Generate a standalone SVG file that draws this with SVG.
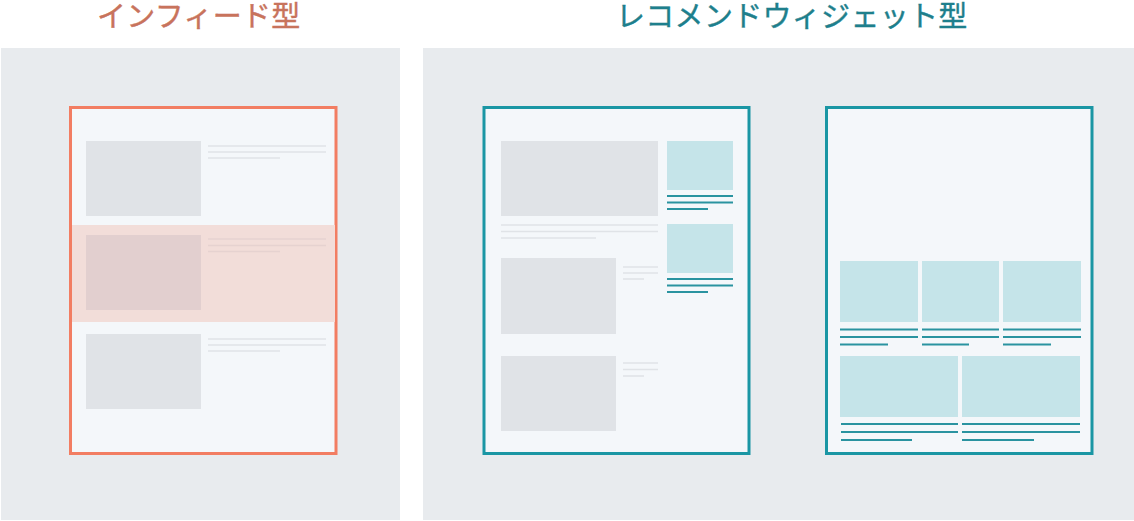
<svg xmlns="http://www.w3.org/2000/svg" width="1134" height="521" viewBox="0 0 1134 521">
<style>
.title{font-family:"Noto Sans CJK JP","Noto Sans",sans-serif;font-size:29px;font-weight:400;letter-spacing:0.3px;stroke-width:0.4px}
.panel{fill:#e8ebee}
.page{fill:#f4f7fa;stroke-width:3}
.gbox{fill:#e0e3e7}
.gline{stroke:#e0e3e7;stroke-width:1.6}
.tbox{fill:#c5e4e9}
.tline{stroke:#2a93a0;stroke-width:2}
</style>
<rect width="1134" height="521" fill="#ffffff"/>
<g id="infeed">
<text class="title" x="97" y="27" fill="#c8735c" stroke="#c8735c">インフィード型</text>
<rect class="panel" x="1" y="48" width="399" height="472"/>
<rect class="page" x="70.5" y="107.5" width="265.5" height="346" stroke="#f27d62"/>
<rect x="72" y="225" width="263" height="97" fill="#f2ddd9"/>
<rect class="gbox" x="86" y="141" width="115" height="75"/>
<line class="gline" x1="208" y1="146" x2="326" y2="146"/>
<line class="gline" x1="208" y1="152" x2="326" y2="152"/>
<line class="gline" x1="208" y1="158" x2="280" y2="158"/>
<rect x="86" y="235" width="115" height="75" fill="#e2cfcf"/>
<line x1="208" y1="239" x2="326" y2="239" stroke="#e6d2d0" stroke-width="1.6"/>
<line x1="208" y1="245.5" x2="326" y2="245.5" stroke="#e6d2d0" stroke-width="1.6"/>
<line x1="208" y1="251.5" x2="280" y2="251.5" stroke="#e6d2d0" stroke-width="1.6"/>
<rect class="gbox" x="86" y="334" width="115" height="75"/>
<line class="gline" x1="208" y1="339" x2="326" y2="339"/>
<line class="gline" x1="208" y1="345" x2="326" y2="345"/>
<line class="gline" x1="208" y1="351" x2="280" y2="351"/>
</g>
<g id="recommend">
<text class="title" x="616" y="27" fill="#1e7f8c" stroke="#1e7f8c">レコメンドウィジェット型</text>
<rect class="panel" x="423" y="48" width="711" height="472"/>
</g>
<g id="widget-sidebar">
<rect class="page" x="484" y="107.5" width="265" height="346" stroke="#1a96a4"/>
<rect class="gbox" x="501" y="141" width="157" height="75"/>
<line class="gline" x1="501" y1="225" x2="658" y2="225"/>
<line class="gline" x1="501" y1="231.5" x2="658" y2="231.5"/>
<line class="gline" x1="501" y1="238" x2="596" y2="238"/>
<rect class="gbox" x="501" y="258" width="115" height="76"/>
<line class="gline" x1="623" y1="267" x2="658" y2="267"/>
<line class="gline" x1="623" y1="273" x2="658" y2="273"/>
<line class="gline" x1="623" y1="279" x2="644" y2="279"/>
<rect class="gbox" x="501" y="356" width="115" height="75"/>
<line class="gline" x1="623" y1="363" x2="658" y2="363"/>
<line class="gline" x1="623" y1="369.5" x2="658" y2="369.5"/>
<line class="gline" x1="623" y1="376" x2="644" y2="376"/>
<rect class="tbox" x="667" y="141" width="66" height="49"/>
<line class="tline" x1="667" y1="196" x2="733" y2="196"/>
<line class="tline" x1="667" y1="202.5" x2="733" y2="202.5"/>
<line class="tline" x1="667" y1="209" x2="708" y2="209"/>
<rect class="tbox" x="667" y="224" width="66" height="49"/>
<line class="tline" x1="667" y1="279" x2="733" y2="279"/>
<line class="tline" x1="667" y1="285.5" x2="733" y2="285.5"/>
<line class="tline" x1="667" y1="292" x2="708" y2="292"/>
</g>
<g id="widget-bottom">
<rect class="page" x="826.5" y="107.5" width="265.5" height="346" stroke="#1a96a4"/>
<rect class="tbox" x="840" y="261" width="78" height="61"/>
<rect class="tbox" x="922" y="261" width="77" height="61"/>
<rect class="tbox" x="1003" y="261" width="78" height="61"/>
<line class="tline" x1="840" y1="329.5" x2="918" y2="329.5"/>
<line class="tline" x1="840" y1="337" x2="918" y2="337"/>
<line class="tline" x1="840" y1="344.5" x2="888" y2="344.5"/>
<line class="tline" x1="922" y1="329.5" x2="999" y2="329.5"/>
<line class="tline" x1="922" y1="337" x2="999" y2="337"/>
<line class="tline" x1="922" y1="344.5" x2="969" y2="344.5"/>
<line class="tline" x1="1003" y1="329.5" x2="1081" y2="329.5"/>
<line class="tline" x1="1003" y1="337" x2="1081" y2="337"/>
<line class="tline" x1="1003" y1="344.5" x2="1051" y2="344.5"/>
<rect class="tbox" x="840" y="356" width="118" height="61"/>
<rect class="tbox" x="962" y="356" width="118" height="61"/>
<line class="tline" x1="841" y1="424" x2="958" y2="424"/>
<line class="tline" x1="841" y1="432" x2="958" y2="432"/>
<line class="tline" x1="841" y1="440" x2="912" y2="440"/>
<line class="tline" x1="962" y1="424" x2="1080" y2="424"/>
<line class="tline" x1="962" y1="432" x2="1080" y2="432"/>
<line class="tline" x1="962" y1="440" x2="1034" y2="440"/>
</g>
</svg>
